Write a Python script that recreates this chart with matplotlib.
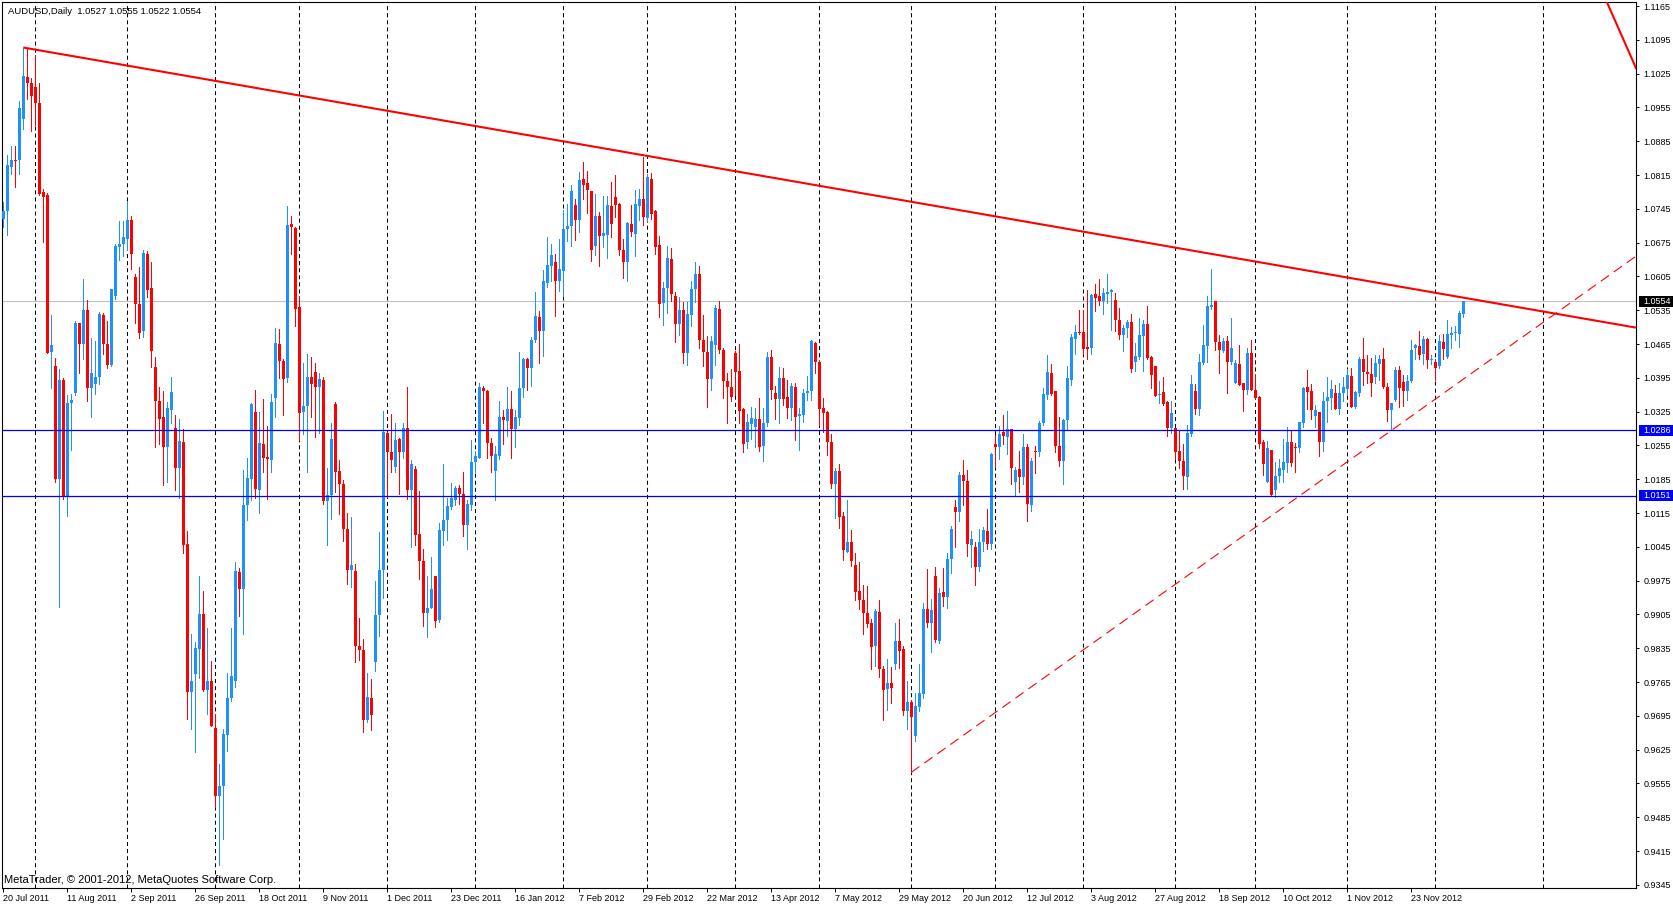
import numpy as np
import pandas as pd
import matplotlib
matplotlib.use('Agg')
import matplotlib.pyplot as plt
import matplotlib.transforms as mtransforms
from matplotlib.patches import Rectangle

plt.rcParams['font.family'] = ['Liberation Sans', 'DejaVu Sans']
plt.rcParams['lines.scale_dashes'] = False

symbol = 'AUDUSD,Daily'
first_day = '2011-07-20'

# daily bars, 20 Jul 2011 .. 12 Dec 2012
opens = [
    1.0723, 1.0741, 1.0831, 1.0847, 1.0846, 1.0932, 1.1019, 1.1005, 1.0998, 1.0965,
    1.0779, 1.0773, 1.0448, 1.0419, 1.0186, 1.0390, 1.0151, 1.0343, 1.0364, 1.0509,
    1.0466, 1.0536, 1.0374, 1.0383, 1.0396, 1.0526, 1.0466, 1.0422, 1.0565, 1.0666,
    1.0672, 1.0683, 1.0721, 1.0603, 1.0547, 1.0491, 1.0652, 1.0580, 1.0418, 1.0348,
    1.0313, 1.0252, 1.0328, 1.0292, 1.0208, 1.0262, 1.0051, 0.9745, 0.9782, 0.9833,
    0.9906, 0.9748, 0.9767, 0.9670, 0.9529, 0.9549, 0.9655, 0.9731, 0.9767, 0.9993,
    0.9958, 1.0132, 1.0185, 1.0325, 1.0163, 1.0259, 1.0231, 1.0224, 1.0354, 1.0465,
    1.0430, 1.0395, 1.0713, 1.0706, 1.0542, 1.0325, 1.0336, 1.0397, 1.0407, 1.0375,
    1.0390, 1.0140, 1.0152, 1.0341, 1.0203, 1.0175, 1.0081, 0.9998, 0.9996, 0.9839,
    0.9831, 0.9686, 0.9731, 0.9806, 0.9903, 0.9998, 1.0280, 1.0241, 1.0210, 1.0269,
    1.0242, 1.0291, 1.0163, 1.0206, 1.0072, 1.0015, 0.9907, 0.9919, 0.9985, 0.9894,
    1.0077, 1.0101, 1.0128, 1.0142, 1.0167, 1.0155, 1.0091, 1.0132, 1.0221, 1.0230,
    1.0374, 1.0367, 1.0260, 1.0203, 1.0234, 1.0313, 1.0305, 1.0330, 1.0290, 1.0312,
    1.0374, 1.0435, 1.0415, 1.0474, 1.0521, 1.0491, 1.0591, 1.0627, 1.0635, 1.0595,
    1.0617, 1.0703, 1.0710, 1.0753, 1.0721, 1.0807, 1.0798, 1.0782, 1.0667, 1.0731,
    1.0688, 1.0691, 1.0751, 1.0769, 1.0755, 1.0659, 1.0634, 1.0713, 1.0693, 1.0751,
    1.0766, 1.0727, 1.0807, 1.0741, 1.0671, 1.0550, 1.0580, 1.0642, 1.0564, 1.0507,
    1.0536, 1.0446, 1.0526, 1.0579, 1.0610, 1.0474, 1.0448, 1.0393, 1.0464, 1.0537,
    1.0453, 1.0388, 1.0376, 1.0447, 1.0409, 1.0330, 1.0262, 1.0300, 1.0293, 1.0309,
    1.0253, 1.0301, 1.0438, 1.0363, 1.0352, 1.0395, 1.0356, 1.0332, 1.0375, 1.0316,
    1.0319, 1.0363, 1.0368, 1.0467, 1.0428, 1.0332, 1.0324, 1.0262, 1.0176, 1.0203,
    1.0108, 1.0035, 1.0056, 1.0008, 0.9954, 0.9935, 0.9909, 0.9888, 0.9840, 0.9911,
    0.9793, 0.9750, 0.9763, 0.9803, 0.9850, 0.9833, 0.9705, 0.9724, 0.9653, 0.9714,
    0.9740, 0.9916, 0.9888, 0.9985, 0.9850, 0.9952, 0.9942, 1.0019, 1.0127, 1.0118,
    1.0193, 1.0182, 1.0048, 1.0044, 1.0004, 1.0056, 1.0078, 1.0050, 1.0259, 1.0251,
    1.0282, 1.0272, 1.0288, 1.0179, 1.0206, 1.0189, 1.0252, 1.0131, 1.0244, 1.0241,
    1.0301, 1.0360, 1.0405, 1.0368, 1.0254, 1.0222, 1.0308, 1.0391, 1.0476, 1.0490,
    1.0490, 1.0459, 1.0457, 1.0569, 1.0564, 1.0555, 1.0569, 1.0572, 1.0557, 1.0515,
    1.0484, 1.0499, 1.0510, 1.0427, 1.0439, 1.0481, 1.0507, 1.0439, 1.0420, 1.0360,
    1.0365, 1.0344, 1.0291, 1.0291, 1.0244, 1.0223, 1.0189, 1.0279, 1.0367, 1.0331,
    1.0426, 1.0460, 1.0541, 1.0555, 1.0469, 1.0450, 1.0472, 1.0428, 1.0384, 1.0423,
    1.0385, 1.0370, 1.0446, 1.0369, 1.0356, 1.0262, 1.0179, 1.0245, 1.0163, 1.0192,
    1.0204, 1.0218, 1.0263, 1.0252, 1.0249, 1.0301, 1.0375, 1.0368, 1.0316, 1.0325,
    1.0262, 1.0347, 1.0354, 1.0364, 1.0331, 1.0363, 1.0372, 1.0399, 1.0335, 1.0363,
    1.0433, 1.0408, 1.0402, 1.0397, 1.0423, 1.0435, 1.0375, 1.0328, 1.0349, 1.0411,
    1.0386, 1.0368, 1.0388, 1.0456, 1.0461, 1.0444, 1.0475, 1.0431, 1.0428, 1.0419,
    1.0469, 1.0438, 1.0484, 1.0487, 1.0485, 1.0527,
]
highs = [
    1.0759, 1.0856, 1.0875, 1.0875, 1.0969, 1.1079, 1.1077, 1.1016, 1.1064, 1.1006,
    1.0786, 1.0777, 1.0526, 1.0437, 1.0413, 1.0395, 1.0359, 1.0361, 1.0513, 1.0509,
    1.0600, 1.0556, 1.0478, 1.0471, 1.0532, 1.0529, 1.0513, 1.0578, 1.0672, 1.0719,
    1.0719, 1.0762, 1.0731, 1.0609, 1.0624, 1.0660, 1.0658, 1.0635, 1.0439, 1.0375,
    1.0368, 1.0345, 1.0397, 1.0317, 1.0310, 1.0289, 1.0078, 0.9864, 0.9848, 0.9985,
    0.9954, 0.9877, 0.9808, 0.9698, 0.9595, 0.9668, 0.9784, 0.9877, 1.0013, 1.0002,
    1.0205, 1.0229, 1.0343, 1.0370, 1.0325, 1.0351, 1.0296, 1.0362, 1.0499, 1.0496,
    1.0435, 1.0751, 1.0731, 1.0708, 1.0565, 1.0425, 1.0445, 1.0438, 1.0425, 1.0404,
    1.0397, 1.0208, 1.0302, 1.0344, 1.0224, 1.0183, 1.0115, 1.0106, 1.0010, 0.9897,
    0.9854, 0.9784, 0.9771, 0.9974, 1.0075, 1.0327, 1.0283, 1.0320, 1.0302, 1.0271,
    1.0302, 1.0377, 1.0224, 1.0213, 1.0161, 1.0041, 0.9985, 1.0024, 0.9985, 1.0094,
    1.0217, 1.0147, 1.0178, 1.0171, 1.0174, 1.0201, 1.0142, 1.0267, 1.0244, 1.0384,
    1.0379, 1.0370, 1.0271, 1.0253, 1.0348, 1.0328, 1.0377, 1.0367, 1.0328, 1.0448,
    1.0437, 1.0436, 1.0479, 1.0572, 1.0534, 1.0619, 1.0686, 1.0672, 1.0652, 1.0683,
    1.0743, 1.0756, 1.0795, 1.0766, 1.0821, 1.0842, 1.0824, 1.0782, 1.0776, 1.0738,
    1.0772, 1.0772, 1.0800, 1.0815, 1.0757, 1.0682, 1.0717, 1.0753, 1.0784, 1.0787,
    1.0853, 1.0817, 1.0819, 1.0743, 1.0689, 1.0593, 1.0669, 1.0664, 1.0573, 1.0562,
    1.0553, 1.0553, 1.0596, 1.0635, 1.0626, 1.0526, 1.0482, 1.0482, 1.0545, 1.0555,
    1.0457, 1.0405, 1.0413, 1.0450, 1.0465, 1.0333, 1.0321, 1.0335, 1.0332, 1.0354,
    1.0332, 1.0449, 1.0452, 1.0378, 1.0418, 1.0415, 1.0390, 1.0385, 1.0384, 1.0332,
    1.0371, 1.0399, 1.0474, 1.0469, 1.0430, 1.0354, 1.0326, 1.0278, 1.0208, 1.0217,
    1.0117, 1.0141, 1.0079, 1.0033, 1.0013, 0.9965, 0.9963, 0.9896, 0.9917, 0.9934,
    0.9798, 0.9812, 0.9797, 0.9887, 0.9896, 0.9840, 0.9767, 0.9727, 0.9743, 0.9802,
    0.9929, 0.9999, 0.9937, 1.0004, 0.9959, 1.0002, 1.0032, 1.0089, 1.0141, 1.0199,
    1.0224, 1.0204, 1.0077, 1.0056, 1.0082, 1.0087, 1.0124, 1.0240, 1.0277, 1.0295,
    1.0319, 1.0327, 1.0290, 1.0210, 1.0244, 1.0279, 1.0258, 1.0228, 1.0254, 1.0305,
    1.0373, 1.0443, 1.0424, 1.0368, 1.0314, 1.0310, 1.0420, 1.0486, 1.0505, 1.0536,
    1.0536, 1.0577, 1.0569, 1.0590, 1.0600, 1.0581, 1.0611, 1.0579, 1.0571, 1.0540,
    1.0505, 1.0514, 1.0528, 1.0467, 1.0519, 1.0515, 1.0543, 1.0441, 1.0420, 1.0388,
    1.0397, 1.0346, 1.0346, 1.0291, 1.0284, 1.0258, 1.0298, 1.0400, 1.0382, 1.0445,
    1.0504, 1.0564, 1.0621, 1.0555, 1.0484, 1.0477, 1.0481, 1.0518, 1.0431, 1.0462,
    1.0385, 1.0457, 1.0473, 1.0402, 1.0357, 1.0266, 1.0264, 1.0245, 1.0221, 1.0226,
    1.0269, 1.0293, 1.0287, 1.0261, 1.0304, 1.0375, 1.0411, 1.0382, 1.0338, 1.0325,
    1.0366, 1.0397, 1.0390, 1.0381, 1.0385, 1.0397, 1.0413, 1.0416, 1.0368, 1.0438,
    1.0478, 1.0442, 1.0437, 1.0442, 1.0442, 1.0457, 1.0385, 1.0343, 1.0417, 1.0419,
    1.0400, 1.0400, 1.0473, 1.0466, 1.0491, 1.0482, 1.0478, 1.0443, 1.0435, 1.0483,
    1.0485, 1.0515, 1.0500, 1.0502, 1.0533, 1.0555,
]
lows = [
    1.0708, 1.0690, 1.0817, 1.0791, 1.0817, 1.0911, 1.0972, 1.0907, 1.0918, 1.0773,
    1.0676, 1.0446, 1.0374, 1.0179, 0.9920, 1.0145, 1.0109, 1.0245, 1.0359, 1.0404,
    1.0433, 1.0348, 1.0314, 1.0361, 1.0383, 1.0444, 1.0415, 1.0419, 1.0558, 1.0639,
    1.0647, 1.0659, 1.0621, 1.0509, 1.0478, 1.0480, 1.0563, 1.0418, 1.0252, 1.0259,
    1.0173, 1.0179, 1.0302, 1.0163, 1.0146, 1.0032, 0.9688, 0.9668, 0.9620, 0.9773,
    0.9746, 0.9698, 0.9674, 0.9506, 0.9386, 0.9440, 0.9622, 0.9726, 0.9755, 0.9902,
    0.9864, 1.0101, 1.0142, 1.0147, 1.0115, 1.0201, 1.0144, 1.0199, 1.0313, 1.0395,
    1.0318, 1.0386, 1.0652, 1.0503, 1.0267, 1.0278, 1.0199, 1.0313, 1.0273, 1.0280,
    1.0133, 1.0048, 1.0102, 1.0158, 1.0112, 1.0057, 0.9969, 0.9962, 0.9806, 0.9811,
    0.9662, 0.9682, 0.9665, 0.9788, 0.9861, 0.9939, 1.0149, 1.0201, 1.0199, 1.0154,
    1.0230, 1.0144, 1.0045, 1.0048, 0.9979, 0.9881, 0.9859, 0.9918, 0.9879, 0.9890,
    1.0048, 1.0059, 1.0124, 1.0132, 1.0134, 1.0068, 1.0041, 1.0122, 1.0199, 1.0228,
    1.0301, 1.0228, 1.0201, 1.0143, 1.0226, 1.0259, 1.0275, 1.0229, 1.0252, 1.0298,
    1.0355, 1.0370, 1.0379, 1.0469, 1.0426, 1.0441, 1.0584, 1.0595, 1.0524, 1.0574,
    1.0564, 1.0678, 1.0669, 1.0681, 1.0698, 1.0766, 1.0737, 1.0636, 1.0650, 1.0626,
    1.0666, 1.0643, 1.0686, 1.0729, 1.0650, 1.0602, 1.0595, 1.0688, 1.0648, 1.0722,
    1.0712, 1.0720, 1.0724, 1.0652, 1.0522, 1.0505, 1.0529, 1.0555, 1.0470, 1.0483,
    1.0426, 1.0421, 1.0502, 1.0553, 1.0457, 1.0419, 1.0334, 1.0370, 1.0422, 1.0446,
    1.0353, 1.0301, 1.0346, 1.0360, 1.0301, 1.0241, 1.0249, 1.0269, 1.0252, 1.0244,
    1.0222, 1.0296, 1.0352, 1.0309, 1.0301, 1.0338, 1.0311, 1.0307, 1.0267, 1.0245,
    1.0303, 1.0350, 1.0350, 1.0406, 1.0298, 1.0283, 1.0236, 1.0167, 1.0105, 1.0085,
    1.0017, 1.0034, 1.0006, 0.9935, 0.9916, 0.9865, 0.9880, 0.9791, 0.9799, 0.9776,
    0.9686, 0.9708, 0.9722, 0.9793, 0.9795, 0.9696, 0.9668, 0.9579, 0.9643, 0.9705,
    0.9732, 0.9878, 0.9827, 0.9848, 0.9846, 0.9923, 0.9918, 0.9990, 1.0044, 1.0099,
    1.0131, 1.0025, 1.0004, 0.9965, 0.9996, 1.0037, 1.0040, 1.0040, 1.0210, 1.0227,
    1.0257, 1.0238, 1.0176, 1.0151, 1.0158, 1.0176, 1.0098, 1.0119, 1.0198, 1.0234,
    1.0297, 1.0352, 1.0360, 1.0241, 1.0212, 1.0175, 1.0288, 1.0381, 1.0445, 1.0486,
    1.0445, 1.0433, 1.0444, 1.0533, 1.0545, 1.0528, 1.0550, 1.0495, 1.0493, 1.0475,
    1.0451, 1.0479, 1.0407, 1.0410, 1.0433, 1.0410, 1.0434, 1.0374, 1.0357, 1.0343,
    1.0338, 1.0274, 1.0281, 1.0227, 1.0208, 1.0165, 1.0165, 1.0274, 1.0320, 1.0319,
    1.0424, 1.0428, 1.0537, 1.0452, 1.0406, 1.0448, 1.0364, 1.0423, 1.0384, 1.0381,
    1.0326, 1.0362, 1.0370, 1.0354, 1.0250, 1.0194, 1.0179, 1.0150, 1.0148, 1.0180,
    1.0180, 1.0199, 1.0212, 1.0200, 1.0241, 1.0294, 1.0330, 1.0309, 1.0293, 1.0233,
    1.0243, 1.0304, 1.0330, 1.0330, 1.0321, 1.0346, 1.0359, 1.0335, 1.0333, 1.0357,
    1.0381, 1.0385, 1.0357, 1.0385, 1.0391, 1.0373, 1.0306, 1.0286, 1.0348, 1.0335,
    1.0337, 1.0349, 1.0387, 1.0435, 1.0435, 1.0424, 1.0415, 1.0424, 1.0390, 1.0415,
    1.0433, 1.0437, 1.0456, 1.0473, 1.0459, 1.0522,
]
closes = [
    1.0741, 1.0835, 1.0847, 1.0844, 1.0954, 1.1021, 1.1005, 1.0979, 1.0965, 1.0775,
    1.0770, 1.0446, 1.0464, 1.0186, 1.0390, 1.0151, 1.0343, 1.0350, 1.0509, 1.0466,
    1.0536, 1.0374, 1.0404, 1.0396, 1.0527, 1.0466, 1.0422, 1.0578, 1.0668, 1.0673,
    1.0686, 1.0721, 1.0652, 1.0547, 1.0488, 1.0653, 1.0577, 1.0451, 1.0348, 1.0310,
    1.0252, 1.0333, 1.0366, 1.0209, 1.0265, 1.0049, 0.9745, 0.9767, 0.9836, 0.9906,
    0.9748, 0.9767, 0.9674, 0.9529, 0.9549, 0.9657, 0.9731, 0.9778, 0.9995, 0.9958,
    1.0132, 1.0187, 1.0341, 1.0165, 1.0260, 1.0229, 1.0226, 1.0345, 1.0467, 1.0429,
    1.0393, 1.0711, 1.0707, 1.0538, 1.0323, 1.0337, 1.0397, 1.0382, 1.0375, 1.0392,
    1.0140, 1.0152, 1.0269, 1.0201, 1.0175, 1.0081, 0.9998, 1.0007, 0.9839, 0.9831,
    0.9686, 0.9734, 0.9696, 0.9903, 0.9998, 1.0282, 1.0241, 1.0224, 1.0267, 1.0241,
    1.0291, 1.0163, 1.0216, 1.0070, 1.0015, 0.9908, 0.9919, 0.9957, 0.9892, 1.0079,
    1.0101, 1.0129, 1.0147, 1.0167, 1.0154, 1.0090, 1.0134, 1.0221, 1.0233, 1.0377,
    1.0368, 1.0260, 1.0233, 1.0238, 1.0313, 1.0307, 1.0330, 1.0290, 1.0313, 1.0374,
    1.0435, 1.0415, 1.0474, 1.0524, 1.0491, 1.0596, 1.0629, 1.0650, 1.0595, 1.0621,
    1.0703, 1.0710, 1.0782, 1.0722, 1.0805, 1.0795, 1.0783, 1.0659, 1.0731, 1.0688,
    1.0695, 1.0753, 1.0714, 1.0752, 1.0659, 1.0634, 1.0715, 1.0698, 1.0755, 1.0766,
    1.0729, 1.0810, 1.0735, 1.0666, 1.0548, 1.0582, 1.0644, 1.0568, 1.0507, 1.0536,
    1.0446, 1.0528, 1.0579, 1.0610, 1.0473, 1.0448, 1.0393, 1.0471, 1.0540, 1.0452,
    1.0388, 1.0376, 1.0355, 1.0407, 1.0326, 1.0259, 1.0303, 1.0311, 1.0309, 1.0251,
    1.0302, 1.0438, 1.0370, 1.0352, 1.0395, 1.0352, 1.0332, 1.0378, 1.0314, 1.0321,
    1.0363, 1.0368, 1.0472, 1.0427, 1.0330, 1.0323, 1.0262, 1.0176, 1.0202, 1.0106,
    1.0039, 1.0056, 1.0015, 0.9952, 0.9935, 0.9909, 0.9885, 0.9838, 0.9913, 0.9791,
    0.9749, 0.9763, 0.9753, 0.9851, 0.9829, 0.9705, 0.9724, 0.9693, 0.9715, 0.9743,
    0.9917, 0.9888, 0.9914, 0.9852, 0.9950, 0.9942, 1.0019, 1.0082, 1.0117, 1.0193,
    1.0182, 1.0051, 1.0062, 1.0004, 1.0056, 1.0079, 1.0050, 1.0237, 1.0252, 1.0279,
    1.0274, 1.0288, 1.0208, 1.0205, 1.0189, 1.0252, 1.0134, 1.0223, 1.0241, 1.0301,
    1.0361, 1.0407, 1.0361, 1.0253, 1.0222, 1.0308, 1.0395, 1.0479, 1.0490, 1.0488,
    1.0455, 1.0455, 1.0567, 1.0560, 1.0555, 1.0571, 1.0572, 1.0576, 1.0514, 1.0484,
    1.0499, 1.0510, 1.0414, 1.0441, 1.0484, 1.0507, 1.0437, 1.0401, 1.0357, 1.0362,
    1.0341, 1.0291, 1.0322, 1.0241, 1.0222, 1.0191, 1.0281, 1.0382, 1.0331, 1.0428,
    1.0462, 1.0543, 1.0546, 1.0469, 1.0452, 1.0472, 1.0428, 1.0456, 1.0426, 1.0381,
    1.0370, 1.0446, 1.0370, 1.0354, 1.0259, 1.0217, 1.0250, 1.0152, 1.0192, 1.0208,
    1.0221, 1.0263, 1.0218, 1.0249, 1.0304, 1.0373, 1.0366, 1.0328, 1.0328, 1.0262,
    1.0347, 1.0356, 1.0372, 1.0331, 1.0363, 1.0376, 1.0400, 1.0335, 1.0366, 1.0433,
    1.0407, 1.0402, 1.0385, 1.0426, 1.0435, 1.0375, 1.0328, 1.0342, 1.0411, 1.0373,
    1.0368, 1.0388, 1.0453, 1.0464, 1.0442, 1.0476, 1.0431, 1.0435, 1.0416, 1.0471,
    1.0455, 1.0485, 1.0487, 1.0490, 1.0530, 1.0554,
]

# horizontal objects
support_levels = [1.0286, 1.0151]
bid_price = 1.0554
# trend lines: (bar number, price) anchors
upper_trend = [(5, 1.1079), (160, 1.0856)]
lower_trend = [(227, 0.9578), (347, 1.0286)]
steep_trend = [(400.85, 1.1174), (408.2, 1.1036)]
next_month_bar = 385      # 2 Jan 2013 line in the empty area

price_ticks = np.round(np.arange(0.9345, 1.11651, 0.007), 4)

opens = np.array(opens)
highs = np.array(highs)
lows = np.array(lows)
closes = np.array(closes)
n = len(opens)
dates = pd.bdate_range(first_day, periods=n)
x = np.arange(n)

W, H = 1674, 906
fig = plt.figure(figsize=(W / 100, H / 100), dpi=100)
fig.patch.set_facecolor('white')
ax = fig.add_axes([2 / W, (H - 888) / H, 1634 / W, 886 / H])
ax.set_facecolor('white')
ax.set_xlim(-0.325, 408.175)
ax.set_ylim(0.93385, 1.11733)

# month separators
month_bars = [i for i in range(1, n) if dates[i].month != dates[i - 1].month]
for m in month_bars + [next_month_bar]:
    ax.axvline(m, color='black', lw=0.75, linestyle=(0, (2.9, 2.2)), zorder=1)

ax.axhline(bid_price, color='#C0C0C0', lw=0.8, zorder=1.5)

# candles
up = closes >= opens
colors = np.where(up, '#1E90FF', '#FF0000')
ax.vlines(x, lows, highs, colors=colors, lw=0.72, antialiased=False, zorder=2)
body_lo = np.minimum(opens, closes)
body_h = np.maximum(np.abs(closes - opens), 0.00021)
ax.bar(x, body_h, bottom=body_lo, width=0.72, color=colors, linewidth=0,
       antialiased=False, zorder=3)

for lvl in support_levels:
    ax.axhline(lvl, color='#0000FF', lw=0.9, zorder=4)

x_end = ax.get_xlim()[1]


def ray(pts):
    (x0, y0), (x1, y1) = pts
    slope = (y1 - y0) / (x1 - x0)
    return [x0, x_end], [y0, y0 + slope * (x_end - x0)]


ux, uy = ray(upper_trend)
ax.plot(ux, uy, color='#FF0000', lw=1.5, zorder=5, solid_capstyle='butt')
lx, ly = ray(lower_trend)
ax.plot(lx, ly, color='#FF0000', lw=0.8, linestyle=(0, (7.2, 4.3)), zorder=5)
ax.axline(steep_trend[0], steep_trend[1], color='#FF0000', lw=1.5, zorder=5)

for s in ax.spines.values():
    s.set_color('black')
    s.set_linewidth(0.8)

# price scale on the right
ax.yaxis.tick_right()
ax.set_yticks(price_ticks)
ax.set_yticklabels([f'{p:.4f}' for p in price_ticks])
ax.tick_params(axis='y', direction='out', length=2.5, width=0.7, pad=3,
               labelsize=6.5, colors='black')

# date scale
tick_bars = x[::16]
ax.set_xticks(tick_bars)
ax.set_xticklabels([f'{d.day} {d.strftime("%b %Y")}' for d in dates[::16]])
ax.tick_params(axis='x', direction='out', length=3, width=0.7, pad=1.5,
               labelsize=6.5, colors='black')
shift = mtransforms.ScaledTranslation(0, 0, fig.dpi_scale_trans)
for lbl in ax.get_xticklabels():
    lbl.set_horizontalalignment('left')
    lbl.set_transform(lbl.get_transform() + shift)

# price boxes on the scale
box_tr = mtransforms.blended_transform_factory(fig.transFigure, ax.transData)
px = 1 / 4829
for price, fc in [(bid_price, 'black')] + [(p, '#0000FF') for p in support_levels]:
    fig.add_artist(Rectangle((1639 / W, price - 5.5 * px), 35 / W, 11 * px,
                             transform=box_tr, facecolor=fc, edgecolor='none',
                             clip_on=False, zorder=10))
    fig.text(1643 / W, price, f'{price:.4f}', transform=box_tr, color='white',
             fontsize=6.5, va='center', ha='left', zorder=11)

fig.text(8 / W, 1 - 11 / H,
         f'{symbol}  {opens[-1]:.4f} {highs[-1]:.4f} {lows[-1]:.4f} {closes[-1]:.4f}',
         fontsize=6.8, va='center', ha='left')
fig.text(4 / W, 1 - 880 / H, 'MetaTrader, \u00a9 2001-2012, MetaQuotes Software Corp.',
         fontsize=8, va='center', ha='left')

fig.savefig('out.png', dpi=100)
